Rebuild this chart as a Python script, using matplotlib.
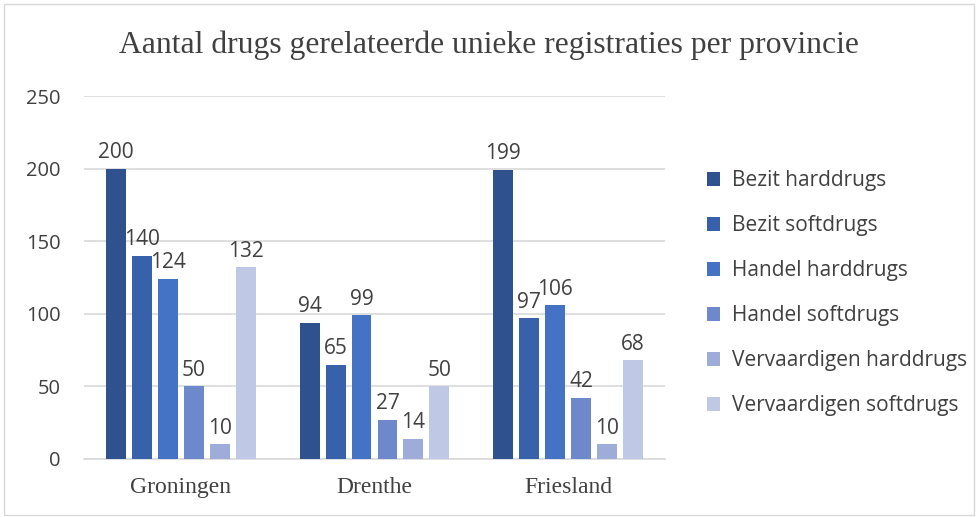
import numpy as np
import matplotlib.pyplot as plt
from matplotlib.patches import Rectangle

provinces = ['Groningen', 'Drenthe', 'Friesland']
series = ['Bezit harddrugs', 'Bezit softdrugs', 'Handel harddrugs',
          'Handel softdrugs', 'Vervaardigen harddrugs', 'Vervaardigen softdrugs']
bezit_hard = [200, 94, 199]
bezit_soft = [140, 65, 97]
handel_hard = [124, 99, 106]
handel_soft = [50, 27, 42]
vervaardigen_hard = [10, 14, 10]
vervaardigen_soft = [132, 50, 68]
colors = ['#2F528F', '#3861AB', '#4472C4', '#6E88CC', '#9DACD9', '#BFC9E5']

values = [bezit_hard, bezit_soft, handel_hard, handel_soft, vervaardigen_hard, vervaardigen_soft]

fig = plt.figure(figsize=(9.78, 5.17), dpi=100)
ax = fig.add_axes([84 / 978, 1 - 459 / 517, (665 - 84) / 978, (459 - 96) / 517])

x = np.arange(len(provinces))
width = 0.103
step = 0.134
for i, (name, vals, c) in enumerate(zip(series, values, colors)):
    pos = x + (i - 2.5) * step
    bars = ax.bar(pos, vals, width, color=c, label=name, zorder=3)
    ax.bar_label(bars, padding=4, fontsize=15, color='#404040', family='Open Sans')

ax.set_ylim(0, 250)
ax.set_xlim(-0.5, 2.5)
ax.set_yticks(range(0, 251, 50))
ax.yaxis.grid(True, color='#D9D9D9', linewidth=1.2, zorder=0)
ax.set_xticks(x)
ax.set_xticklabels(provinces, family='Liberation Serif', fontsize=17, color='#404040')
for lab in ax.get_yticklabels():
    lab.set_family('Open Sans')
    lab.set_fontsize(14.5)
    lab.set_color('#404040')
ax.tick_params(axis='both', length=0)
ax.tick_params(axis='y', pad=17)
ax.tick_params(axis='x', pad=13)
for s in ['top', 'right', 'left']:
    ax.spines[s].set_visible(False)
ax.spines['bottom'].set_color('#D9D9D9')
ax.spines['bottom'].set_linewidth(1.2)

fig.text(0.5, 1 - 45 / 517, 'Aantal drugs gerelateerde unieke registraties per provincie',
         ha='center', va='center', family='Liberation Serif', fontsize=22.8, color='#404040')

fig.legend(loc='center left', bbox_to_anchor=(688 / 978, 1 - 293 / 517), frameon=False,
           prop={'family': 'Open Sans', 'size': 15}, labelcolor='#404040',
           handlelength=0.65, handleheight=0.65, handletextpad=0.55, labelspacing=1.15)

fig.patches.append(Rectangle((4 / 978, 2 / 517), 970 / 978, 511 / 517, transform=fig.transFigure,
                             fill=False, edgecolor='#D9D9D9', linewidth=1))

fig.savefig('out.png', dpi=100)
